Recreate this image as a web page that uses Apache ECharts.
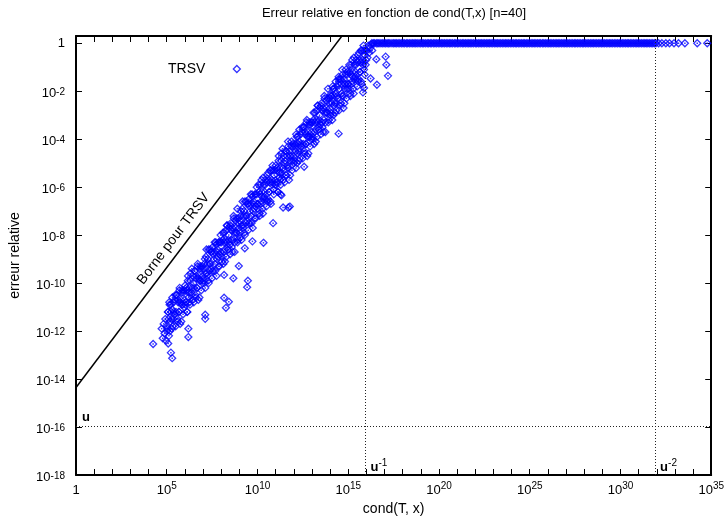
<!DOCTYPE html>
<html><head><meta charset="utf-8">
<script src="https://cdn.jsdelivr.net/npm/echarts@6/dist/echarts.min.js"></script>
<style>html,body{margin:0;padding:0;background:#fff}#c{width:727px;height:521px}</style>
</head><body><div id="c"></div>
<script>
// ---------- texts ----------
const titleText = 'Erreur relative en fonction de cond(T,x) [n=40]';
const xName = 'cond(T, x)';
const yName = 'erreur relative';
const seriesName = 'TRSV';
const boundLabel = 'Borne pour TRSV';
const n = 40;
const unitRoundoff = Math.pow(2, -53);

// ---------- axes (log10 exponents) ----------
const xRange = [0, 35];          // cond from 1 to 1e35
const xTickStep = 5;
const yRange = [-18, Math.log10(2)]; // error from 1e-18 to 2
const yTickStep = 2;

// ---------- data: [log10 cond(T,x), log10 relative error] ----------
const bandPoints = [
[4.72,-11.9],[4.78,-12.3],[4.83,-11.7],[4.88,-12.1],[4.92,-11.5],[4.96,-12.4],[4.99,-11.8],
[5.02,-12.0],[5.06,-11.2],[5.1,-11.5],[5.14,-10.8],[5.18,-12.0],[5.22,-10.9],[5.26,-11.5],[5.3,-11.1],[5.34,-11.8],[5.38,-10.8],[5.43,-11.3],[5.47,-10.5],
[5.51,-11.2],[5.55,-10.5],[5.6,-11.6],[5.63,-10.8],[5.68,-11.2],[5.71,-10.2],[5.76,-10.8],[5.8,-11.6],[5.83,-10.4],[5.88,-10.9],[5.92,-10.4],[5.96,-11.0],
[6.01,-10.1],[6.05,-10.8],[6.1,-10.3],[6.13,-11.2],[6.17,-9.7],[6.22,-10.4],[6.25,-10.8],[6.29,-9.9],[6.34,-10.4],[6.38,-9.4],[6.43,-10.7],[6.47,-10.0],
[6.51,-10.2],[6.54,-9.5],[6.6,-10.6],[6.63,-9.8],[6.68,-10.2],[6.71,-9.2],[6.76,-9.8],[6.8,-10.6],[6.83,-9.4],[6.88,-9.9],[6.92,-9.4],[6.97,-10.0],
[7.02,-9.4],[7.07,-10.0],[7.1,-9.0],[7.15,-9.6],[7.19,-8.6],[7.23,-9.7],[7.26,-9.0],[7.31,-10.0],[7.35,-9.2],[7.4,-8.6],[7.44,-9.4],[7.48,-8.7],
[7.51,-9.5],[7.55,-8.8],[7.6,-9.0],[7.64,-8.3],[7.67,-9.5],[7.72,-8.4],[7.76,-9.0],[7.8,-8.6],[7.85,-9.3],[7.88,-8.3],[7.93,-8.8],[7.97,-8.0],
[8.02,-8.3],[8.05,-9.1],[8.1,-7.9],[8.14,-8.7],[8.17,-8.3],[8.21,-9.1],[8.26,-7.8],[8.3,-8.3],[8.33,-7.6],[8.38,-8.6],[8.42,-8.0],[8.47,-8.4],
[8.51,-7.6],[8.56,-8.2],[8.59,-7.8],[8.63,-8.7],[8.68,-7.2],[8.72,-7.9],[8.75,-8.3],[8.8,-7.4],[8.84,-7.9],[8.89,-6.9],[8.92,-8.2],[8.97,-7.5],
[9.01,-7.4],[9.05,-8.1],[9.09,-7.0],[9.14,-7.6],[9.18,-6.6],[9.21,-7.7],[9.26,-7.0],[9.3,-8.0],[9.35,-7.2],[9.39,-6.6],[9.43,-7.4],[9.48,-6.7],
[9.52,-7.5],[9.55,-6.8],[9.6,-7.0],[9.63,-6.3],[9.67,-7.5],[9.72,-6.4],[9.76,-7.0],[9.79,-6.6],[9.84,-7.3],[9.88,-6.3],[9.91,-6.8],[9.96,-6.0],
[10.02,-6.7],[10.06,-5.9],[10.1,-7.1],[10.13,-6.3],[10.18,-6.7],[10.22,-5.7],[10.25,-6.4],[10.3,-7.1],[10.34,-5.9],[10.37,-6.4],[10.42,-5.9],[10.46,-6.5],
[10.51,-5.8],[10.55,-6.6],[10.59,-5.4],[10.64,-6.2],[10.67,-5.8],[10.71,-6.6],[10.76,-5.3],[10.8,-5.8],[10.83,-5.1],[10.88,-6.1],[10.92,-5.5],[10.97,-5.9],
[11.01,-5.1],[11.05,-5.8],[11.09,-5.3],[11.14,-6.2],[11.17,-4.7],[11.22,-5.4],[11.26,-5.7],[11.3,-4.9],[11.33,-5.4],[11.38,-4.4],[11.42,-5.7],[11.47,-5.0],
[11.52,-4.9],[11.56,-5.5],[11.59,-4.5],[11.64,-5.1],[11.68,-4.1],[11.71,-5.2],[11.76,-4.5],[11.8,-5.5],[11.84,-4.7],[11.87,-4.1],[11.92,-4.9],[11.96,-4.2],
[12.01,-5.0],[12.05,-4.3],[12.1,-4.5],[12.13,-3.8],[12.17,-5.0],[12.22,-3.9],[12.26,-4.5],[12.29,-4.1],[12.34,-4.8],[12.38,-3.8],[12.41,-4.3],[12.46,-3.5],
[12.52,-4.2],[12.55,-3.5],[12.6,-4.6],[12.64,-3.8],[12.67,-4.2],[12.72,-3.2],[12.75,-3.9],[12.8,-4.6],[12.84,-3.4],[12.88,-3.9],[12.91,-3.4],[12.96,-4.0],
[13.02,-3.3],[13.06,-4.0],[13.09,-2.9],[13.14,-3.7],[13.18,-3.3],[13.21,-4.1],[13.26,-2.8],[13.3,-3.3],[13.33,-2.6],[13.38,-3.6],[13.42,-3.0],[13.47,-3.4],
[13.51,-2.6],[13.55,-3.3],[13.6,-2.8],[13.63,-3.7],[13.68,-2.2],[13.72,-2.9],[13.75,-3.3],[13.8,-2.4],[13.83,-2.9],[13.88,-1.9],[13.92,-3.2],[13.97,-2.5],
[14.02,-3.0],[14.06,-2.2],[14.09,-2.5],[14.14,-1.8],[14.18,-3.0],[14.21,-1.9],[14.26,-2.5],[14.29,-2.1],[14.34,-2.8],[14.38,-1.8],[14.42,-2.3],[14.46,-1.5],
[14.51,-1.9],[14.55,-2.6],[14.6,-1.5],[14.64,-2.1],[14.67,-1.1],[14.72,-2.2],[14.76,-1.5],[14.79,-2.5],[14.84,-1.7],[14.88,-1.1],[14.92,-1.9],[14.96,-1.2],
[15.01,-1.7],[15.06,-0.9],[15.1,-2.1],[15.13,-1.3],[15.18,-1.7],[15.22,-0.7],[15.25,-1.4],[15.3,-2.1],[15.33,-0.9],[15.38,-1.4],[15.42,-0.9],[15.46,-1.5],
[15.51,-0.8],[15.55,-1.6],[15.59,-0.4],[15.64,-1.2],[15.68,-0.8],[15.71,-1.6],[15.76,-0.3],[15.8,-0.8],[15.84,-0.1],[15.87,-1.1],[15.92,-0.5],[15.96,-0.9],
[16.02,-0.3],[16.06,-0.6],[16.1,-0.1],[16.15,-0.4],[16.2,-0.2],[16.26,-0.05],[16.32,-0.3]
];
const bandPointsB = [
[5.03,-11.9],[5.08,-11.2],[5.12,-12.2],[5.16,-10.9],[5.2,-11.6],[5.24,-11.2],[5.28,-11.9],[5.31,-10.6],[5.36,-11.5],[5.4,-11.2],[5.45,-10.7],[5.49,-11.8],
[5.53,-10.5],[5.58,-11.5],[5.62,-10.7],[5.66,-11.2],[5.7,-10.3],[5.74,-11.7],[5.78,-10.7],[5.81,-10.9],[5.86,-10.3],[5.9,-11.3],[5.95,-10.3],[5.99,-10.7],
[6.03,-10.9],[6.08,-10.2],[6.12,-11.2],[6.16,-9.9],[6.2,-10.6],[6.24,-10.2],[6.28,-10.9],[6.31,-9.6],[6.36,-10.5],[6.4,-10.2],[6.45,-9.7],[6.49,-10.8],
[6.53,-9.5],[6.58,-10.5],[6.62,-9.7],[6.66,-10.2],[6.7,-9.3],[6.74,-10.7],[6.78,-9.7],[6.81,-9.9],[6.86,-9.3],[6.9,-10.3],[6.95,-9.3],[6.99,-9.7],
[7.03,-9.9],[7.08,-9.2],[7.12,-10.2],[7.16,-8.9],[7.2,-9.6],[7.24,-9.2],[7.28,-9.9],[7.31,-8.6],[7.36,-9.5],[7.4,-9.2],[7.45,-8.7],[7.49,-9.8],
[7.53,-8.5],[7.58,-9.5],[7.62,-8.7],[7.66,-9.2],[7.7,-8.3],[7.74,-9.7],[7.78,-8.7],[7.81,-8.9],[7.86,-8.3],[7.9,-9.3],[7.95,-8.3],[7.99,-8.7],
[8.03,-8.9],[8.08,-8.2],[8.12,-9.2],[8.16,-7.9],[8.2,-8.6],[8.24,-8.2],[8.28,-8.9],[8.31,-7.6],[8.36,-8.5],[8.4,-8.2],[8.45,-7.7],[8.49,-8.8],
[8.53,-7.5],[8.58,-8.5],[8.62,-7.7],[8.66,-8.2],[8.7,-7.3],[8.74,-8.7],[8.78,-7.7],[8.81,-7.9],[8.86,-7.3],[8.9,-8.3],[8.95,-7.3],[8.99,-7.7],
[9.03,-7.9],[9.08,-7.2],[9.12,-8.2],[9.16,-6.9],[9.2,-7.6],[9.24,-7.2],[9.28,-7.9],[9.31,-6.6],[9.36,-7.5],[9.4,-7.2],[9.45,-6.7],[9.49,-7.8],
[9.53,-6.5],[9.58,-7.5],[9.62,-6.7],[9.66,-7.2],[9.7,-6.3],[9.74,-7.7],[9.78,-6.7],[9.81,-6.9],[9.86,-6.3],[9.9,-7.3],[9.95,-6.3],[9.99,-6.7],
[10.03,-6.9],[10.08,-6.2],[10.12,-7.2],[10.16,-5.9],[10.2,-6.6],[10.24,-6.2],[10.28,-6.9],[10.31,-5.6],[10.36,-6.5],[10.4,-6.2],[10.45,-5.7],[10.49,-6.8],
[10.53,-5.5],[10.58,-6.5],[10.62,-5.7],[10.66,-6.2],[10.7,-5.3],[10.74,-6.7],[10.78,-5.7],[10.81,-5.9],[10.86,-5.3],[10.9,-6.3],[10.95,-5.3],[10.99,-5.7],
[11.03,-5.9],[11.08,-5.2],[11.12,-6.2],[11.16,-4.9],[11.2,-5.6],[11.24,-5.2],[11.28,-5.9],[11.31,-4.6],[11.36,-5.5],[11.4,-5.2],[11.45,-4.7],[11.49,-5.8],
[11.53,-4.5],[11.58,-5.5],[11.62,-4.7],[11.66,-5.2],[11.7,-4.3],[11.74,-5.7],[11.78,-4.7],[11.81,-4.9],[11.86,-4.3],[11.9,-5.3],[11.95,-4.3],[11.99,-4.7],
[12.03,-4.9],[12.08,-4.2],[12.12,-5.2],[12.16,-3.9],[12.2,-4.6],[12.24,-4.2],[12.28,-4.9],[12.31,-3.6],[12.36,-4.5],[12.4,-4.2],[12.45,-3.7],[12.49,-4.8],
[12.53,-3.5],[12.58,-4.5],[12.62,-3.7],[12.66,-4.2],[12.7,-3.3],[12.74,-4.7],[12.78,-3.7],[12.81,-3.9],[12.86,-3.3],[12.9,-4.3],[12.95,-3.3],[12.99,-3.7],
[13.03,-3.9],[13.08,-3.2],[13.12,-4.2],[13.16,-2.9],[13.2,-3.6],[13.24,-3.2],[13.28,-3.9],[13.31,-2.6],[13.36,-3.5],[13.4,-3.2],[13.45,-2.7],[13.49,-3.8],
[13.53,-2.5],[13.58,-3.5],[13.62,-2.7],[13.66,-3.2],[13.7,-2.3],[13.74,-3.7],[13.78,-2.7],[13.81,-2.9],[13.86,-2.3],[13.9,-3.3],[13.95,-2.3],[13.99,-2.7],
[14.03,-2.9],[14.08,-2.2],[14.12,-3.2],[14.16,-1.9],[14.2,-2.6],[14.24,-2.2],[14.28,-2.9],[14.31,-1.6],[14.36,-2.5],[14.4,-2.2],[14.45,-1.7],[14.49,-2.8],
[14.53,-1.5],[14.58,-2.5],[14.62,-1.7],[14.66,-2.2],[14.7,-1.3],[14.74,-2.7],[14.78,-1.7],[14.81,-1.9],[14.86,-1.3],[14.9,-2.3],[14.95,-1.3],[14.99,-1.7],
[15.03,-1.9],[15.08,-1.2],[15.12,-2.2],[15.16,-0.9],[15.2,-1.6],[15.24,-1.2],[15.28,-1.9],[15.31,-0.6],[15.36,-1.5],[15.4,-1.2],[15.45,-0.7],[15.49,-1.8],
[15.53,-0.5],[15.58,-1.5],[15.62,-0.7],[15.66,-1.2],[15.7,-0.3],[15.74,-1.7],[15.78,-0.7],[15.81,-0.9],[15.86,-0.3],[15.9,-1.3],[15.95,-0.3],[15.99,-0.7]
];
const outlierPoints = [
[4.25,-12.54],[5.08,-12.52],[5.23,-12.9],[5.3,-13.13],[6.19,-11.9],[6.19,-12.25],[7.12,-11.32],[7.12,-11.49],
[8.16,-10.61],[8.42,-10.78],[8.26,-11.03],[8.16,-9.66],[8.67,-9.8],[8.97,-9.29],[9.3,-8.55],[9.47,-9.9],[9.43,-10.17],
[9.72,-8.26],[10.33,-8.32],[10.86,-7.5],[11.28,-6.3],[11.32,-6.34],[11.41,-6.85],[11.7,-6.85],[11.78,-6.81],[12.57,-5.15],
[14.01,-2.16],[14.47,-3.77],[14.47,-1.4],[15.81,-2.05],[15.87,-1.87],[16.23,-1.47],[16.55,-0.67],[16.58,-1.73],
[17.06,-0.56],[17.1,-0.9],[17.19,-1.36]
];
// conditions for which the relative error saturates at 1 (log10 = 0)
const saturatedLogCond = [
16.3,16.38,16.45,16.55,16.63,16.7,16.8,16.88,16.97,17.05,17.14,17.22,17.3,17.41,17.5,17.58,17.66,17.75,17.84,17.93,
18.02,18.1,18.2,18.28,18.37,18.46,18.55,18.63,18.72,18.8,18.9,18.99,19.08,19.16,19.25,19.35,19.43,19.52,19.6,19.7,
19.78,19.87,19.96,20.05,20.14,20.22,20.31,20.4,20.49,20.58,20.66,20.75,20.85,20.93,21.02,21.1,21.2,21.29,21.37,21.46,
21.55,21.64,21.72,21.81,21.9,22.0,22.08,22.17,22.26,22.34,22.43,22.52,22.61,22.7,22.78,22.87,22.96,23.05,23.14,23.22,
23.31,23.4,23.49,23.58,23.67,23.75,23.84,23.93,24.02,24.11,24.2,24.28,24.37,24.46,24.55,24.64,24.72,24.81,24.9,24.99,
25.08,25.17,25.25,25.34,25.43,25.52,25.6,25.7,25.78,25.87,25.96,26.05,26.13,26.22,26.31,26.4,26.49,26.57,26.66,26.75,
26.84,26.93,27.01,27.1,27.19,27.28,27.37,27.46,27.54,27.63,27.72,27.81,27.9,27.98,28.07,28.16,28.25,28.34,28.43,28.51,
28.6,28.69,28.78,28.87,28.96,29.04,29.13,29.22,29.31,29.4,29.48,29.57,29.66,29.75,29.84,29.93,30.01,30.1,30.19,30.28,
30.37,30.45,30.54,30.63,30.72,30.81,30.9,30.98,31.07,31.16,31.25,31.34,31.42,31.51,31.6,31.69,31.78,31.87,31.95,
32.1,32.28,32.5,32.7,32.95,33.2,33.55,34.23,34.78
];
const saturatedLogErr = 0;

// ---------- derived reference values ----------
const logU = Math.log10(unitRoundoff);
const gammaN = n * unitRoundoff / (1 - n * unitRoundoff);
const logGamma = Math.log10(gammaN);
const boundLine = [[0, logGamma], [20, 20 + logGamma]];
const boundLabelAt = 5.9;

const FONT = '"Liberation Sans", Arial, Helvetica, sans-serif';
const BLUE = '#0000ff';

const scatterData = bandPoints.concat(bandPointsB, outlierPoints, saturatedLogCond.map(x => [x, saturatedLogErr]));

function isInt(v){ return Math.abs(v - Math.round(v)) < 1e-9; }
function xLabel(v){ if (!isInt(v)) return ''; v = Math.round(v); return v === 0 ? '{b|1}' : '{b|10}{s|' + v + '}'; }
function yLabel(v){ if (!isInt(v)) return ''; v = Math.round(v); return v === 0 ? '{one|1}' : '{b|10}{s|' + v + '}'; }

const richX = {
  b: {fontSize: 13, lineHeight: 18, fontFamily: FONT, color: '#000'},
  s: {fontSize: 10, lineHeight: 7, verticalAlign: 'top', fontFamily: FONT, color: '#000'}
};
const richY = {
  one: {fontSize: 13, lineHeight: 18, fontFamily: FONT, color: '#000'},
  b: {fontSize: 13, lineHeight: 18, padding: [5,0,0,0], fontFamily: FONT, color: '#000'},
  s: {fontSize: 10, lineHeight: 6, verticalAlign: 'top', padding: [5,0,0,0], fontFamily: FONT, color: '#000'}
};

const axisLine = {show: true, onZero: false, lineStyle: {color: '#000', width: 2}};
const tick = {show: true, inside: true, length: 6, lineStyle: {color: '#000', width: 1}};
const minor = {show: true, splitNumber: 5, length: 6, lineStyle: {color: '#000', width: 1}};

const chart = echarts.init(document.getElementById('c'), null, {renderer: 'canvas'});
const option = {
  animation: false,
  backgroundColor: '#fff',
  textStyle: {fontFamily: FONT},
  title: {
    text: titleText, left: 394, top: 7, textAlign: 'center', padding: 0,
    textStyle: {fontSize: 13, fontWeight: 'normal', color: '#000', fontFamily: FONT}
  },
  legend: {
    data: [seriesName], left: 168, top: 62, align: 'right', padding: 0,
    itemWidth: 7, itemHeight: 7, icon: 'diamond', selectedMode: false,
    itemStyle: {color: 'rgba(0,0,0,0)', borderColor: BLUE, borderWidth: 1.3},
    textStyle: {fontSize: 14, color: '#000', fontFamily: FONT, padding: [0, 23, 0, 0]}
  },
  grid: {left: 76, right: 15, top: 36, bottom: 44, containLabel: false},
  xAxis: [
    {type: 'value', min: xRange[0], max: xRange[1], interval: xTickStep, position: 'bottom',
     axisLine, axisTick: tick, minorTick: minor, splitLine: {show: false}, minorSplitLine: {show: false},
     axisLabel: {show: true, margin: 6, formatter: xLabel, rich: richX, color: '#000', showMinLabel: true, showMaxLabel: true},
     name: xName, nameLocation: 'middle', nameGap: 27,
     nameTextStyle: {fontSize: 14, color: '#000', fontFamily: FONT}},
    {type: 'value', min: xRange[0], max: xRange[1], interval: xTickStep, position: 'top',
     axisLine, axisTick: tick, minorTick: minor, splitLine: {show: false}, axisLabel: {show: false}}
  ],
  yAxis: [
    {type: 'value', min: yRange[0], max: yRange[1], interval: yTickStep, position: 'left',
     axisLine, axisTick: tick, splitLine: {show: false},
     axisLabel: {show: true, margin: 11, formatter: yLabel, rich: richY, color: '#000', showMinLabel: true, showMaxLabel: true},
     name: yName, nameLocation: 'middle', nameGap: 54,
     nameTextStyle: {fontSize: 14, color: '#000', fontFamily: FONT}},
    {type: 'value', min: yRange[0], max: yRange[1], interval: yTickStep, position: 'right',
     axisLine, axisTick: tick, splitLine: {show: false}, axisLabel: {show: false}}
  ],
  series: [
    {
      name: 'bound', type: 'line', data: boundLine, xAxisIndex: 0, yAxisIndex: 0,
      symbol: 'none', clip: true, silent: true,
      lineStyle: {color: '#000', width: 1.5}
    },
    {
      name: seriesName, type: 'scatter', data: scatterData, xAxisIndex: 0, yAxisIndex: 0,
      symbol: 'diamond', symbolSize: 7, silent: true,
      itemStyle: {color: 'rgba(0,0,0,0)', borderColor: BLUE, borderWidth: 1.3},
      emphasis: {disabled: true},
      markLine: {
        silent: true, symbol: ['none', 'none'], animation: false,
        label: {show: false},
        lineStyle: {color: '#222', type: [1, 2], width: 1},
        data: [{xAxis: -logU}, {xAxis: -2 * logU}, {yAxis: logU}]
      }
    },
    {
      name: 'centres', type: 'scatter', data: scatterData, xAxisIndex: 0, yAxisIndex: 0,
      symbol: 'rect', symbolSize: 1.5, silent: true,
      itemStyle: {color: BLUE}, emphasis: {disabled: true}
    }
  ]
};
chart.setOption(option);

// annotations placed from data coordinates
const P = (x, y) => chart.convertToPixel({xAxisIndex: 0, yAxisIndex: 0}, [x, y]);
const a = P(0, logGamma), b = P(10, 10 + logGamma);
const dx = b[0] - a[0], dy = b[1] - a[1], len = Math.hypot(dx, dy);
const ux = dx / len, uy = dy / len;
const m = P(boundLabelAt, boundLabelAt + logGamma);
const off = 12;
const ang = Math.atan2(-dy, dx);
const uPt = P(xRange[0], logU);
const uInvPt = P(-logU, yRange[0]);
const uInv2Pt = P(-2 * logU, yRange[0]);
const richU = {
  u: {fontSize: 13, fontWeight: 'bold', lineHeight: 18, fontFamily: FONT, fill: '#000', color: '#000'},
  s: {fontSize: 10, lineHeight: 8, verticalAlign: 'top', fontFamily: FONT, fill: '#000', color: '#000'}
};
chart.setOption({
  graphic: {elements: [
    {type: 'text', x: m[0] + off * uy, y: m[1] - off * ux, rotation: ang, silent: true,
     style: {text: boundLabel, fontSize: 14, fontFamily: FONT, fill: '#000', align: 'center', verticalAlign: 'middle'}},
    {type: 'text', x: uPt[0] + 6, y: uPt[1] - 18, silent: true,
     style: {text: '{u|u}', rich: richU, align: 'left', verticalAlign: 'top'}},
    {type: 'text', x: uInvPt[0] + 5, y: uInvPt[1] - 16.5, silent: true,
     style: {text: '{u|u}{s|-1}', rich: richU, align: 'left', verticalAlign: 'top'}},
    {type: 'text', x: uInv2Pt[0] + 5, y: uInv2Pt[1] - 16.5, silent: true,
     style: {text: '{u|u}{s|-2}', rich: richU, align: 'left', verticalAlign: 'top'}}
  ]}
});
</script>
</body></html>
